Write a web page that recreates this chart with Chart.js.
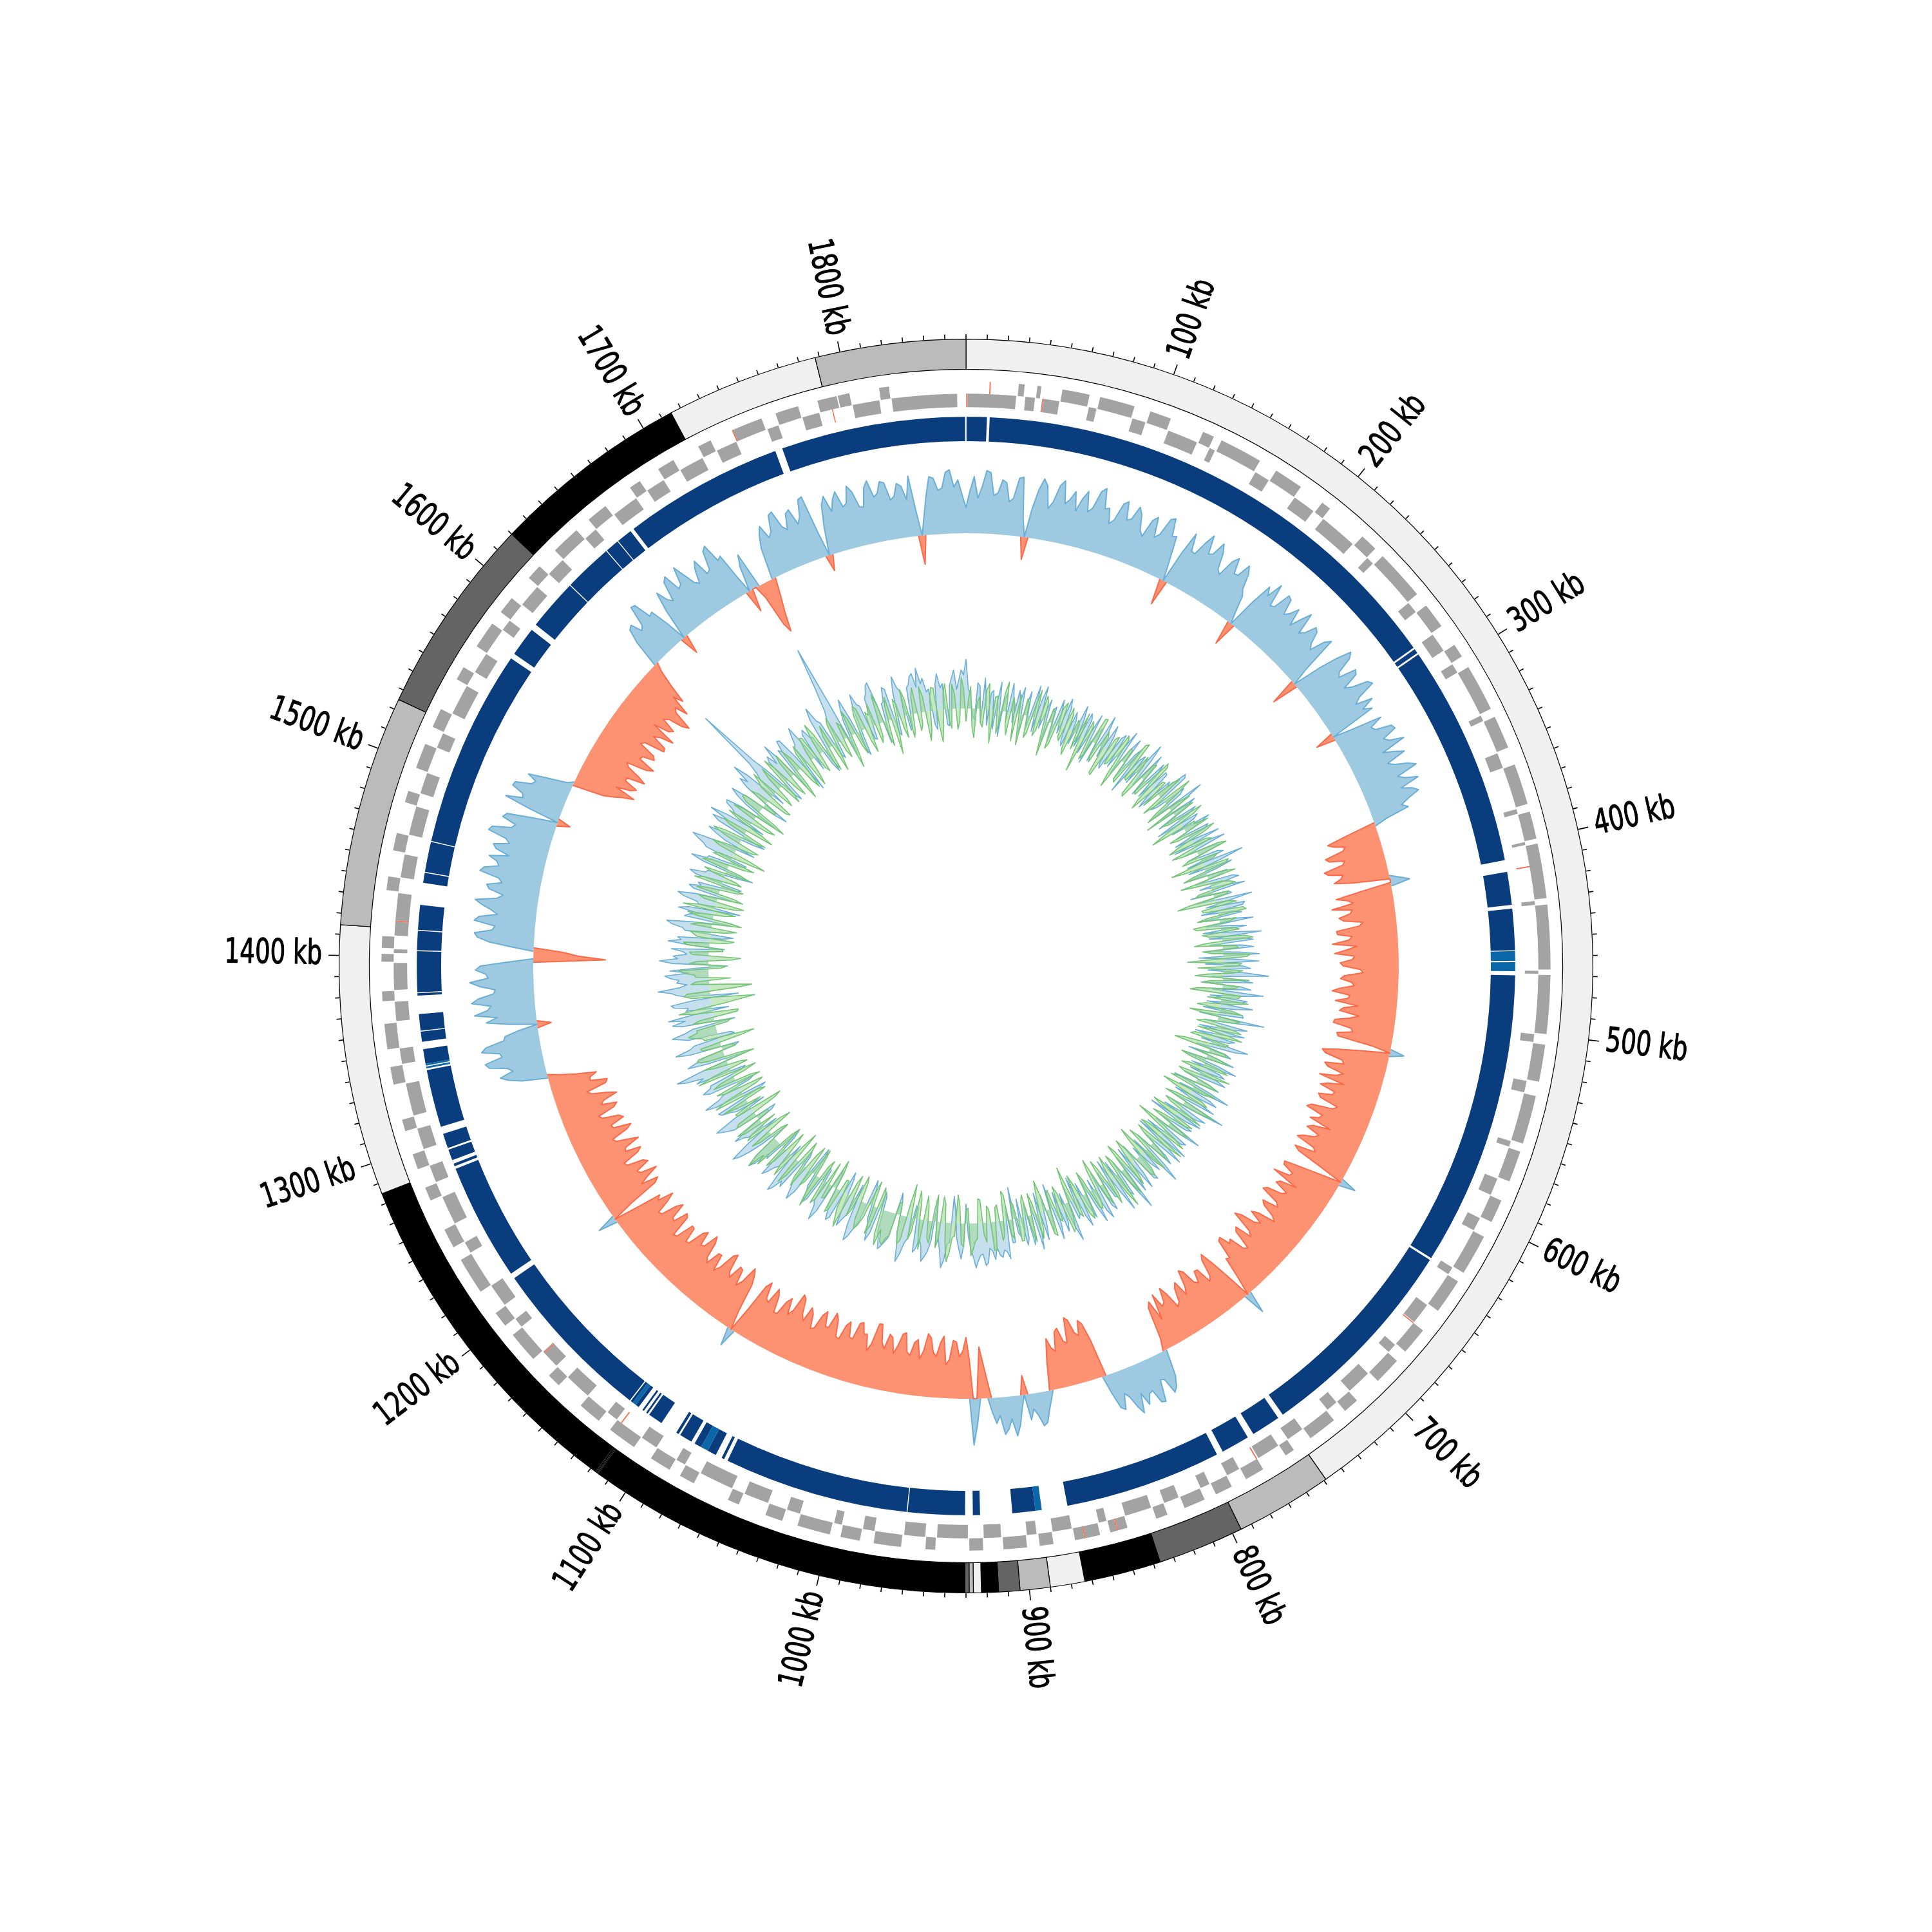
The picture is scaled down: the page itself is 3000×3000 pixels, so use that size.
<!DOCTYPE html>
<html>
<head>
<meta charset="utf-8">
<title>Genome map</title>
<script src="https://cdn.jsdelivr.net/npm/chart.js@4.4.1/dist/chart.umd.min.js"></script>
<style>
  html, body { margin: 0; padding: 0; background: #fff; }
  #stage { position: relative; width: 3000px; height: 3000px; }
  #stage canvas { position: absolute; left: 0; top: 0; }
</style>
</head>
<body>
<div id="stage">
  <canvas id="ringsCanvas" width="3000" height="3000"></canvas>
  <canvas id="skewCanvas" width="3000" height="3000"></canvas>
  <canvas id="innerCanvas" width="3000" height="3000"></canvas>
</div>
<script>
// ---- data -------------------------------------------------------------

const genomeKb = 1860;
const minorTickKb = 10;
const tickLabelsKb = [100, 200, 300, 400, 500, 600, 700, 800, 900, 1000, 1100, 1200, 1300, 1400, 1500, 1600, 1700, 1800];

// outer band ring: [start kb, end kb, shade]
const ideogramBands = [
  [0, 749, 'light'], [749, 795.5, 'mid'], [795.5, 836.8, 'dark'], [836.8, 873.5, 'black'],
  [873.5, 890, 'light'], [890, 904.4, 'mid'], [904.4, 914.6, 'dark'], [914.6, 922.7, 'black'],
  [922.7, 926.5, 'light'], [926.5, 928.5, 'mid'], [928.5, 930.5, 'dark'], [930.5, 1115.4, 'black'],
  [1115.4, 1116, 'dark'], [1116, 1116.5, 'mid'], [1116.5, 1116.9, 'light'], [1116.9, 1117.5, 'dark'],
  [1117.5, 1285, 'black'], [1285, 1414.5, 'light'], [1414.5, 1525, 'mid'], [1525, 1620, 'dark'],
  [1620, 1715, 'black'], [1715, 1788, 'light'], [1788, 1860, 'mid']
];

// gene runs along the genome in order: [strand, length kb]; '' is an intergenic gap
const geneTrack = [
  ['-',26],['',0.8],['+',3],['',1],['-',5],['',0.5],['+',2],['',1.2],['-',9],['',0.6],['+',14],['',1],['-',4],['',0.5],['+',18],['',0.8],['-',7],['',0.6],
  ['+',11],['',1],['-',16],['',0.7],['+',6],['',0.5],['-',3],['',0.8],['+',22],['',1],['-',8],['',0.6],['+',15],['',0.5],['-',12],['',0.9],
  ['+',5],['',0.6],['-',20],['',1],['+',9],['',0.5],['-',4],['',0.8],['+',26],['',0.7],['-',6],['',0.6],['+',13],['',1],['-',10],['',0.6],['+',7],
  ['',0.8],['-',5],['',0.5],['+',24],['',0.9],['-',3],['',0.6],['+',17],['',0.7],['-',8],['',0.5],['+',21],['',1],['-',2.5],['',0.6],['+',14],
  ['',0.5],['-',1.5],['',0.6],['+',28],['',0.8],['-',2],['',0.5],['+',33],['',0.7],['-',1.5],['',0.6],['+',30],
  ['',0.8],['-',4],['',0.6],['+',19],['',0.9],['-',6],['',0.5],['+',25],['',0.7],['-',3],['',0.6],['+',16],['',1],['-',9],['',0.5],['+',12],
  ['',0.8],['-',7],['',0.6],['+',21],['',0.7],['-',4],['',0.5],['+',18],['',0.9],['-',11],['',0.6],['+',14],['',0.8],['-',5],['',0.5],['+',14],
  ['',0.9],['-',13],['',0.6],['+',8],['',0.5],['-',6],['',0.8],['+',15],['',0.7],['-',9],['',0.6],['+',5],['',0.5],['-',12],['',0.9],['+',10],['',0.6],['-',7],['',0.5],['+',9],
  ['',0.7],['-',5],['',0.6],['+',11],['',0.8],['-',8],['',0.5],['+',6],['',0.7],['-',14],['',0.6],['+',9],['',0.5],['-',4],['',0.8],['+',13],['',0.6],['-',10],['',0.5],['+',7],['',0.9],['-',5],
  ['',0.6],['+',12],['',0.8],['-',9],['',0.5],['+',7],['',0.7],['-',16],['',0.6],['+',5],['',0.5],['-',11],['',0.9],['+',14],['',0.6],['-',6],['',0.5],['+',10],['',0.7],['-',4],
  ['',0.8],['+',17],['',0.6],['-',7],['',0.5],['+',9],['',0.9],['-',13],['',0.6],['+',6],['',0.5],['-',18],['',0.7],['+',8],['',0.6],['-',5],['',0.5],['+',11],
  ['',0.7],['-',9],['',0.6],['+',15],['',0.5],['-',6],['',0.8],['+',12],['',0.6],['-',14],['',0.5],['+',7],['',0.9],['-',10],['',0.6],['+',16],['',0.5],['-',5],
  ['',0.6],['+',8],['',0.7],['-',12],['',0.5],['+',19],['',0.8],['-',6],['',0.6],['+',10],['',0.5],['-',15],['',0.9],['+',7],['',0.6],['-',9],['',0.5],['+',8],
  ['',0.7],['-',11],['',0.6],['+',6],['',0.5],['-',17],['',0.8],['+',9],['',0.6],['-',8],['',0.5],['+',13],['',0.9],['-',10],['',0.6],['+',5],['',0.5],['-',14],
  ['',0.6],['+',4],['',0.5],['-',2],['',0.5],['+',6],['',0.6],['-',22],['',0.8],['+',7],['',0.5],['-',12],['',0.9],['+',9],['',0.6],['-',15],['',0.5],['+',6],['',0.7],['-',11],
  ['',0.6],['+',13],['',0.5],['-',8],['',0.8],['+',10],['',0.6],['-',16],['',0.5],['+',7],['',0.9],['-',11],['',0.6],['+',14],['',0.5],['-',6],['',0.7],['+',9],
  ['',0.8],['-',12],['',0.6],['+',8],['',0.5],['-',10],['',0.7],['+',15],['',0.6],['-',7],['',0.5],['+',11],['',0.9],['-',14],['',0.6],['+',6],['',0.5],['-',10],
  ['',0.6],['+',9],['',0.5],['-',13],['',0.8],['+',7],['',0.6],['-',11],['',0.5],['+',16],['',0.9],['-',6],['',0.6],['+',12],['',0.5],['-',9],['',0.7],['+',10],
  ['',0.6],['+',6],['',0.5],['-',14],['',0.8],['+',5],['',0.6],['-',34]
];

// rRNA / tRNA features
const fwdRna = [[12,12.6],[852,852.6],[869,869.6],[1738,1738.6]];
const revRna = [[0.2,0.8],[40,40.5],[413,413.6],[664,664.6],[772,772.6],[1121,1121.6],[1175,1175.6],[1418,1418.6],[1790,1790.5]];

// contig blocks: [start kb, end kb, shade]
const contigBlocks = [
  [0.3,11.3,'d'],[12.8,282,'d'],[283,285.5,'d'],[286.5,407.5,'d'],[414,432,'d'],[434,456.5,'d'],
  [456.9,462.2,'l'],[462.9,467.8,'l'],[470,631,'d'],[632.2,748,'d'],[751,767,'d'],[770.5,786,'d'],
  [789.5,875,'d'],[889,892.5,'l'],[892.5,905,'d'],[922.4,926.3,'d'],[930.5,961.6,'d'],[962.1,1063,'d'],
  [1065,1066.5,'d'],[1070,1075,'d'],[1075,1079,'l'],[1079,1083,'d'],[1085,1092,'d'],[1093,1094.5,'d'],
  [1104,1112,'d'],[1113,1114,'d'],[1115.5,1116.5,'d'],[1119,1121,'d'],[1121,1123,'l'],[1123,1124.4,'d'],
  [1125,1216,'d'],[1219,1283,'d'],[1284.5,1286,'d'],[1288,1294,'d'],[1295,1303,'d'],[1307,1338.5,'d'],
  [1339.5,1340.5,'l'],[1341,1342,'l'],[1342,1350,'d'],[1354,1359.5,'d'],[1360,1369,'d'],[1379,1380.3,'d'],
  [1380.8,1403,'d'],[1403.5,1414,'d'],[1414.5,1428,'d'],[1440,1445.5,'d'],[1446,1462.5,'d'],[1463,1571,'d'],
  [1574,1590,'d'],[1593.5,1621.5,'d'],[1622,1648.5,'d'],[1649,1656.5,'d'],[1657,1665.5,'d'],[1667.5,1755,'d'],
  [1759,1859.5,'d']
];

// GC skew (x1000), one value per 2.5 kb window, 60 kb per row
const gcSkew = [
  40, 66, 88, 55, 72, 98, 95, 60, 64, 85, 81, 52, 58, 90, 92, 30, -35, 45, 76, 94, 84, 50, 61, 88,
  97, 62, 70, 84, 55, 76, 89, 58, 66, 94, 101, 70, 73, 50, 58, 86, 92, 64, 68, 90, 80, 57, 49, 78,
  86, 55, 63, 91, 95, 68, 71, 35, -40, 52, 88, 61, 60, 82, 99, 70, 74, 96, 83, 58, 52, 80, 90, 66,
  67, 89, 78, 54, 45, 20, -38, 48, 82, 70, 95, 60, 63, 91, 88, 64, 71, 85, 58, 76, 93, 59, 66, 84,
  80, 62, 54, 78, 87, 30, -42, 44, 76, 99, 91, 66, 60, 88, 84, 57, 69, 92, 97, 68, 57, 83, 62, 75,
  -30, 35, 79, 58, 62, 87, 90, 66, 73, 95, 55, 72, 86, 54, 64, 83, 94, 60, 70, 89, 58, 74, 82, 63,
  49, 58, 20, -45, -80, -72, -55, -60, -90, -85, -62, -66, -97, -92, -70, -74, -86, -58, 15, 30, -50, -88, -70, -63,
  -97, -66, -70, -88, -81, -52, -58, -94, -93, -71, -76, -102, -64, -80, -99, -68, -72, -91, -86, -60, -55, -84, -90, -73,
  -68, -90, -102, -74, -77, -96, -60, -82, -88, -57, -71, -93, -95, -66, -63, -87, -84, -30, 22, -45, -79, -104, -98, -70,
  -66, -95, -89, -62, -73, -98, -57, -81, -92, -67, -69, -90, -85, -55, -61, -94, -100, -72, -75, -88, -52, -79, -87, -64,
  -70, -86, -94, -63, -58, -90, -81, -40, 25, -35, -66, -92, -90, -71, -74, -99, -55, -80, -85, -62, -68, -91, -96, -66,
  -60, -85, -79, -58, -50, -77, -88, -65, -73, -96, -105, -70, -62, -89, -84, -53, -57, -82, -78, -95, -92, -61, -64, -30,
  35, -40, -71, -94, -86, -60, -53, -79, -80, -62, -67, -90, -95, -70, -58, -83, -76, -55, -49, -74, -88, -66, -62, -85,
  -45, -78, -70, -20, 42, 58, 65, 40, 38, 72, 70, 48, 51, 66, 45, 75, 62, 44, 36, 60, 55, 30, -60, -88,
  -95, -72, -78, -100, -105, -66, -70, -92, -88, -58, -64, -80, -50, 15, 30, 48, 52, 35, 24, 40, -30, 20, 46, 62,
  35, 50, 58, 28, 40, 22, -28, -55, -80, 40, 72, -60, -95, -74, -65, -88, -90, -60, -52, -96, -85, -64, -70, -92,
  -98, -70, -58, -87, -82, -61, -66, -95, -92, -73, -60, -84, -88, -64, -74, -101, -100, -68, -55, -80, -79, -96, -93, -67,
  -68, -91, -84, -60, -62, -88, -97, -72, -71, -94, -86, -63, -59, -82, -90, -66, -75, -98, -103, -74, -64, -89, -81, -58,
  -57, -83, -92, -66, -70, -95, -85, -40, 28, -30, -76, -90, -99, -72, -61, -86, -88, -65, -73, -100, -95, -69, -58, -84,
  -83, -60, -67, -92, -101, -77, -74, -96, -90, -64, -62, -85, -86, -58, -55, -89, -93, -70, -72, -97, -88, -63, -60, -82,
  -96, -71, -78, -40, 30, -35, -84, -92, -65, -80, -99, -74, -70, -93, -87, -62, -59, -86, -94, -70, -73, -98, -82, -64,
  -61, -88, -97, -70, -68, -91, -85, -60, -56, -83, -90, -66, -72, -95, -80, -58, -52, -84, -88, -62, -63, -75, -45, -20,
  40, 60, 72, 50, 58, 85, 90, 62, 65, 92, 84, 55, 52, 30, -22, 45, 78, 60, 95, 74, 68, 98, 87, 63,
  60, 84, 99, 70, 74, 90, 82, 40, -112, -70, -45, 35, 70, 88, 93, 66, 62, 95, 88, 60, 71, 86, 97, 64,
  55, 78, 83, 60, 66, 97, 92, 70, 74, 88, 58, 80, 86, 62, 69, 99, 95, 66, 61, 84, 79, 40, -20, 50,
  90, 64, 67, 86, 84, 60, 55, 70, 40, 10, -50, -66, -78, -95, -62, -84, -92, -70, -70, -98, -85, -64, -58, -90,
  -100, -72, -74, -92, -88, -60, -65, -97, -95, -70, -80, -100, -60, -84, -90, -66, -72, -96, -105, -74, -68, -88, -55, -70,
  -40, -15, 45, 66, 70, 52, 58, 90, 88, 60, 63, 35, -30, 50, 80, 62, 55, 86, 92, 64, 68, 95, 76, 58,
  52, 74, 85, 58, 61, 90, 96, 66, 70, 30, -35, 40, 58, -20, -70, -85, -55, -30, 50, 70, 82, 60, 67, 92,
  95, 68, 60, 84, 88, 62, 72, 98, 100, 40, -25, 45, 78, 90, 64, 82, 92, 66, 70, 96, 85, 60, 58, 87,
  97, 70, 75, 92, 89, 61, 66, 85, 80, 58, 94, 40, -45, 30, 62, 90, 87, 68, 71, 95, 99, 72, 83, 60
];

// inner track: GC content deviation (blue) and AT content deviation (green), per 2.5 kb window
const gcDeviation = [
  76, 30, 22, -10, -18, 40, 35, -22, 48, 15, -25, 26, 30, -30, 12, 44, -40, 18, 28, -12, 45, 22, -15, 36,
  20, 42, -30, 16, 38, -20, 15, 50, -22, 28, 52, -14, 10, 34, -35, 20, 26, -28, 40, 18, -12, 46, 33, -18,
  -28, 30, 18, -20, 45, 24, -20, 38, 30, -26, 8, 42, -38, 16, 25, -30, 50, 22, -16, 40, 22, -24, -30, 28,
  36, -20, 14, 48, -26, 22, 42, -30, 20, 34, -45, 18, 28, -22, 55, 30, -18, 44, 12, -28, 38, 20, -24, 32,
  30, -16, -35, 26, 18, 52, 48, -24, -14, 36, 26, -30, 60, 24, -22, 40, 16, -32, 34, 18, -40, 30, 22, -20,
  44, 20, -18, 36, 28, -26, 12, 46, -32, 22, 50, -20, 24, 40, -20, 30, 38, -24, 66, 28, -26, 44, 18, -30,
  32, 16, -22, 38, 46, -18, 20, 52, -36, 24, 28, -30, 58, 20, -16, 44, 40, -26, 24, 36, -30, 20, 52, -22,
  18, 40, -28, 22, 62, -20, 34, 48, -20, 30, 48, -24, 26, 56, -38, 18, 55, -28, 30, 42, -24, 36, 70, -18,
  22, 46, -34, 28, 44, -16, 64, 30, -18, 40, 30, -22, 50, 24, -26, 36, 38, -30, 72, 26, -20, 48, 28, -26,
  46, 20, -30, 34, 24, -18, 58, 40, -22, 26, 36, -32, 16, 44, -40, 22, 52, -20, 28, 38, -18, 30, 44, -24,
  20, 38, -36, 26, 60, -22, 32, 46, -24, 18, 48, -28, 68, 30, -20, 44, 30, -26, 42, 20, -44, 34, 26, -20,
  56, 22, -22, 40, 34, -30, 18, 50, -38, 24, 50, -20, 28, 42, -26, 36, 64, -24, 36, 20, -16, 44, 40, -28,
  24, 48, -30, 20, 46, -22, 70, 34, -20, 40, 32, -26, 58, 22, -34, 30, 26, -20, 44, 36, -24, 52, 38, -18,
  52, 26, -28, 40, 20, -22, 48, 30, -36, 24, 30, -28, 62, 40, -18, 28, 42, -24, 26, 50, -40, 22, 34, -26,
  18, 44, -32, 26, 56, -20, 28, 46, -22, 34, 44, -30, 30, 22, -50, 36, 36, -20, 60, 48, 45, 56, 52, 40,
  58, 44, 40, 62, 66, 48, 50, 58, 69, 52, 38, 20, -30, 34, 55, 40, 24, -20, -42, 30, 32, 58, 70, 44,
  26, 38, -36, 30, 48, 56, 64, 40, 30, 46, 52, -18, -20, 32, 40, 60, 72, 44, 28, -20, -34, 38, 46, 54,
  60, 44, 36, -20, -28, 40, 54, 30, 22, -26, -40, 30, 44, 58, 66, 40, -24, 28, 38, 50, 18, -22, -36, 44,
  50, 36, 28, -18, -30, 46, 62, 40, 34, -20, -22, 38, 46, 28, 20, -30, -44, 40, 56, 42, 30, -18, -26, 48,
  40, 56, 64, 30, -20, 26, 32, 44, 52, -24, -38, 30, 24, 48, 58, 36, -28, 20, 44, 60, 70, 38, -22, 30,
  36, 50, 20, -26, -34, 40, 50, 58, 66, 30, -26, 22, 30, 44, 48, -28, -40, 46, 62, 36, 28, -22, -30, 44,
  54, 40, 38, -16, -24, 56, 44, 70, 84, 40, -36, 28, 60, 46, 30, -20, -28, 52, 72, 48, 40, -26, -20, 46,
  58, 70, 48, 36, -32, 50, 65, 44, 70, 30, -26, 40, 36, 58, 62, 28, -44, 38, 52, 60, 80, 46, 34, 50,
  46, 60, 68, 30, 60, 20, -30, 56, 76, 48, 55, 34, 40, 58, -24, 30, 64, 44, 50, -20, -36, 40, 44, 62,
  70, 30, -28, 44, 38, 22, 56, 40, -40, 26, 30, 52, 62, 36, -22, 40, 48, 30, 36, -26, -32, 44, 54, 30,
  28, -20, -44, 40, 60, 36, 34, -18, -26, 44, 50, 62, 72, 40, -30, 22, 40, 54, 24, -20, -38, 46, 58, 32,
  66, 40, -24, 30, 36, 50, 52, 28, -34, 24, 44, 56, 28, -22, -42, 38, 56, 44, 74, 50, -20, 30, 40, 60,
  158, 60, 30, -26, -36, 40, 48, 30, 62, 34, -28, 44, 38, 56, 54, 20, -46, 30, 34, 48, 60, 28, -22, 40,
  46, 30, 28, -24, -38, 52, 70, 46, 40, -20, -26, 38, 52, 90, 155, 60, -30, 26, 44, 58, 24, -28, -40, 36,
  58, 40, 36, -20, -22, 44, 50, 62, 66, 30, -34, 28, 30, 52, 48, -22, -28, 40, 64, 46, 38, -24, -20, 42,
  46, 58, 62, 40, 69, 44, 52, 30, 34, -22, -30, 40, 56, 34, 40, -24, -26, 36, 48, 60, 30, 44, 60, 52
];

const atDeviation = [
  -20, 12, 34, -30, -45, 10, 18, -22, -28, 30, 40, -14, -52, 20, 22, -36, -15, 28, 46, -20, -36, 24, 12, -44,
  30, -18, -48, 26, 20, -34, -26, 16, 44, -28, -18, 38, 28, -20, -55, 22, 16, -40, -32, 30, 38, -16, -22, 34,
  24, -30, -40, 20, 14, -26, 36, -18, -58, 28, 20, -34, -24, 40, 42, -22, -30, 26, 18, -44, -46, 22, 28, -20,
  -16, 38, 32, -28, -50, 24, 22, -30, -34, 42, 46, -18, -20, 30, 14, -38, -42, 26, 30, -22, -26, 44, 38, -30,
  -44, 18, 20, -28, 28, 40, -36, -14, 50, 24, -22, -40, 16, 36, -48, 20, 34, -26, -18, 42, 26, -30, -54, 20,
  18, 40, -30, -18, 44, 26, -24, -40, 22, 30, -40, -22, 36, 48, -16, -30, 28, 20, -52, -26, 40, 34, -20, -38,
  26, 44, -46, -20, 18, 30, 38, -22, -28, 24, 20, -40, -60, 18, 32, -24, -22, 40, 44, -18, -34, 26, 16, -42,
  -38, 20, 28, -30, -20, 36, 48, -26, -44, 20, 24, -32, -18, 42, 36, -20, -56, 28, 22, -40, 30, 18, -26, -44,
  40, -20, -32, 26, 18, -38, -50, 30, 26, -22, 42, 18, -24, -36, 20, 34, -46, -18, 34, 26, -18, -32, 28, 40,
  -28, 22, 44, -30, -36, 26, 22, -44, -58, 24, 30, -20, 18, 36, -40, -26, 26, 40, -22, -34, 48, 20, -34, -24,
  20, 36, -26, -40, 38, 20, -48, -26, 24, 34, -20, -36, 52, 26, -30, -20, 16, 40, -44, -30, 32, 22, -18, -34,
  36, 22, -54, -24, 22, 40, -28, -38, 46, 20, -36, -22, 18, 34, -24, -40, 40, 24, -50, -28, 26, 38, 30, -20,
  -42, -20, 20, 36, -30, -44, 44, 24, -22, -34, 56, 30, -38, -22, 24, 40, -26, -40, 34, 20, -48, -30, 18, 32,
  28, -22, -36, 20, 40, 30, -20, -38, 30, 22, -56, -28, 22, 40, 46, -20, -32, 24, 18, -30, -24, 42, 38, -24,
  -50, -26, 26, 40, -18, -34, 42, 20, -34, -24, 20, 36, 36, -22, -28, 30, 24, -40, -46, 22, 30, -26, -22, 44,
  44, -20, -26, 30, 18, -36, -38, 24, 28, 40, 50, -24, -20, 36, 32, -28, -44, 20, 22, 46, 60, 30, -30, -40,
  24, 40, -42, -20, 34, 26, -22, -38, 46, 20, -30, -44, 20, 34, -52, -24, 38, 44, 26, -20, -18, 36, 40, 52,
  48, 30, 56, 40, -24, -34, 30, 44, -40, -20, 22, 36, 44, 28, -28, -40, 18, 30, -36, -22, 54, 40, 26, -20,
  -20, 34, 40, -28, -46, 22, 24, -36, 30, 40, -34, -22, 52, 30, -22, -44, 18, 28, -42, -26, 36, 22, -26, -40,
  28, 44, -48, -20, 40, 22, -18, -36, 24, 38, -38, -24, 46, 30, 58, 40, -30, -20, 20, 34, -44, -28, 34, 24,
  -24, 30, 42, -20, -20, 36, 30, -40, -52, 24, 26, -22, 18, 40, -36, -24, 48, 30, -28, -40, 22, 36, -40, -26,
  36, 22, -22, -40, 54, 30, -30, -20, 20, 38, -46, -24, 28, 44, 40, -22, -18, 30, 32, -34, -56, 22, 24, 36,
  45, 30, 30, -20, -26, 34, 22, -38, -40, 24, 52, 20, -20, -44, -69, -30, 28, 40, 36, -40, -66, -30, 28, 20,
  -34, 20, 22, 38, 46, -20, -28, 30, 18, -36, -50, 26, 30, -22, -20, 34, 40, -26, -38, 20, 26, 32, -22, -40,
  32, 20, -46, -28, 24, 40, -18, -34, 50, 26, -32, -44, 20, 30, -40, -24, 36, 20, -26, -36, 44, 28, -30, -20,
  18, 34, -38, -22, 42, 30, -24, -40, 30, 22, -54, -30, 26, 40, 16, -26, -34, 22, 48, 30, -20, -38, 28, 40,
  -44, -26, 22, 40, -28, -40, 38, 22, -50, -30, 26, 36, 34, -20, -22, 30, 18, -34, -40, 22, 30, 44, -32, -20,
  24, 40, -36, -22, 46, 28, -20, -34, 28, 40, -48, -26, 38, 22, -26, -40, 22, 34, -42, -24, 16, 38, 36, -22,
  -30, 24, 50, 30, -24, -38, 20, 36, -44, -20, 32, 42, -18, -30, 28, 20, -52, -28, 40, 24, -22, -36, 26, 40,
  34, -22, -40, 24, 18, 36, -30, -20, 46, 28, -24, -40, 22, 36, -56, -26, 30, 20, -20, -34, 42, 26, -36, -24,
  26, 40, -28, -20, 40, 24, -46, -30, 20, 36, 34, -22, -50, -28, 24, 40, -18, -30, 38, 22, -32, -20, 48, 30
];

// ---- styles -----------------------------------------------------------

const bandColors = { light: '#f0f0f0', mid: '#bbbbbb', dark: '#646464', black: '#000000' };
const contigColors = { d: '#0a3d7e', l: '#0c67a8' };
const geneGray = '#a3a3a3';
const rnaRed = '#fb6a4a';
const clear = 'rgba(0,0,0,0)';

// radii in px from the centre
const R = {
  outer: 974, ideoIn: 927, fwdOut: 908, fwdIn: 889, revIn: 868, contigOut: 853, contigIn: 815,
  skewBase: 672, innerBase: 400, tickMinor: 981, tickMajor: 990, label: 1000
};
const half = 1500; // half of the canvas

// ---- helpers ----------------------------------------------------------

// turns [start, end, color] features into doughnut slices; later features paint over earlier ones
function paintRing(features) {
  let cuts = [0, genomeKb];
  features.forEach(f => cuts.push(Math.min(f[0], genomeKb), Math.min(f[1], genomeKb)));
  cuts = [...new Set(cuts)].sort((a, b) => a - b);
  const data = [];
  const colors = [];
  for (let i = 0; i < cuts.length - 1; i++) {
    const a = cuts[i], b = cuts[i + 1], mid = (a + b) / 2;
    let color = clear;
    features.forEach(f => { if (mid > f[0] && mid < f[1]) color = f[2]; });
    if (colors.length && colors[colors.length - 1] === color) {
      data[data.length - 1] += b - a;
    } else {
      data.push(b - a);
      colors.push(color);
    }
  }
  return { data, colors };
}

// places the ordered gene runs of one strand on the genome
function strandFeatures(strand, rnas) {
  const out = [];
  let pos = 0;
  geneTrack.forEach(([s, len]) => {
    if (s === strand) out.push([pos, pos + len, geneGray]);
    pos += len;
  });
  return out.concat(rnas.map(r => [r[0], r[1], rnaRed]));
}

// keeps one sign of a series, ends every run on the baseline
function splitSign(values, sign) {
  const n = values.length;
  return values.map((v, i) => {
    if (v * sign > 0) return v;
    const prev = values[(i - 1 + n) % n];
    const next = values[(i + 1) % n];
    return (prev * sign > 0 || next * sign > 0) ? 0 : null;
  });
}

function radialScale(baseRadius) {
  return {
    min: -baseRadius,
    max: half - baseRadius,
    startAngle: 0,
    angleLines: { display: false },
    grid: { display: false, circular: true },
    pointLabels: { display: false },
    ticks: { display: false }
  };
}

function windowLabels(values) {
  const step = genomeKb / values.length;
  return values.map((v, i) => i * step);
}

const common = {
  responsive: false,
  animation: false,
  devicePixelRatio: 1,
  events: [],
  plugins: { legend: { display: false }, tooltip: { enabled: false } }
};

// ---- rings (doughnut) -------------------------------------------------

const ideo = paintRing(ideogramBands.map(b => [b[0], b[1], bandColors[b[2]]]));
const fwd = paintRing(strandFeatures('+', fwdRna));
const rev = paintRing(strandFeatures('-', revRna));
const contigs = paintRing(contigBlocks.map(b => [b[0], b[1], contigColors[b[2]]]));

function ring(part, weight, extra) {
  return Object.assign({
    data: part.data, backgroundColor: part.colors, borderWidth: 0,
    weight: weight, hoverOffset: 0, offset: 0
  }, extra || {});
}

new Chart(document.getElementById('ringsCanvas'), {
  type: 'doughnut',
  data: {
    datasets: [
      ring(ideo, R.outer - R.ideoIn, { borderWidth: 1.2, borderColor: '#000' }),
      ring({ data: [genomeKb], colors: [clear] }, R.ideoIn - R.fwdOut),
      ring(fwd, R.fwdOut - R.fwdIn),
      ring(rev, R.fwdIn - R.revIn),
      ring({ data: [genomeKb], colors: [clear] }, R.revIn - R.contigOut),
      ring(contigs, R.contigOut - R.contigIn)
    ]
  },
  options: Object.assign({}, common, {
    cutout: R.contigIn,
    layout: { padding: half - R.outer }
  })
});

// ---- ticks and labels, drawn through the radial scale ------------------

const ringTicks = {
  id: 'ringTicks',
  afterDatasetsDraw(chart) {
    const scale = chart.scales.r;
    const ctx = chart.ctx;
    const kbPerIndex = genomeKb / chart.data.labels.length;
    ctx.save();
    ctx.strokeStyle = '#000';
    ctx.lineWidth = 1.6;
    for (let kb = 0; kb < genomeKb; kb += minorTickKb) {
      const idx = kb / kbPerIndex;
      const major = tickLabelsKb.includes(kb);
      const a = scale.getPointPosition(idx, R.outer);
      const b = scale.getPointPosition(idx, major ? R.tickMajor : R.tickMinor);
      ctx.beginPath();
      ctx.moveTo(a.x, a.y);
      ctx.lineTo(b.x, b.y);
      ctx.stroke();
    }
    ctx.fillStyle = '#000';
    ctx.lineWidth = 1.1;
    ctx.lineJoin = 'round';
    ctx.font = '53px "DejaVu Sans Condensed", "DejaVu Sans", sans-serif';
    ctx.textBaseline = 'middle';
    tickLabelsKb.forEach(kb => {
      const p = scale.getPointPosition(kb / kbPerIndex, R.label);
      const rightSide = p.angle < Math.PI / 2;
      ctx.save();
      ctx.translate(p.x, p.y);
      ctx.rotate(rightSide ? p.angle : p.angle - Math.PI);
      ctx.scale(0.78, 1);
      ctx.textAlign = rightSide ? 'left' : 'right';
      ctx.fillText(kb + ' kb', 0, 0);
      ctx.strokeText(kb + ' kb', 0, 0);
      ctx.restore();
    });
    ctx.restore();
  }
};

// ---- GC skew track (radar) --------------------------------------------

function trackLine(data, line, fill, order, width) {
  return {
    data: data, borderColor: line, backgroundColor: fill, fill: 'origin',
    borderWidth: width, borderJoinStyle: 'round', pointRadius: 0, pointHitRadius: 0,
    spanGaps: false, order: order
  };
}

new Chart(document.getElementById('skewCanvas'), {
  type: 'radar',
  data: {
    labels: windowLabels(gcSkew),
    datasets: [
      trackLine(splitSign(gcSkew, 1), '#6baed6', '#9ecae1', 1, 2),
      trackLine(splitSign(gcSkew, -1), '#fb6a4a', '#fc9272', 0, 2)
    ]
  },
  options: Object.assign({}, common, { scales: { r: radialScale(R.skewBase) } }),
  plugins: [ringTicks]
});

// ---- inner track (radar) ----------------------------------------------

new Chart(document.getElementById('innerCanvas'), {
  type: 'radar',
  data: {
    labels: windowLabels(gcDeviation),
    datasets: [
      trackLine(gcDeviation, '#6baed6', 'rgba(158,202,225,0.6)', 1, 1.6),
      trackLine(atDeviation, '#74c476', 'rgba(161,217,155,0.6)', 0, 1.6)
    ]
  },
  options: Object.assign({}, common, { scales: { r: radialScale(R.innerBase) } })
});
</script>
</body>
</html>
